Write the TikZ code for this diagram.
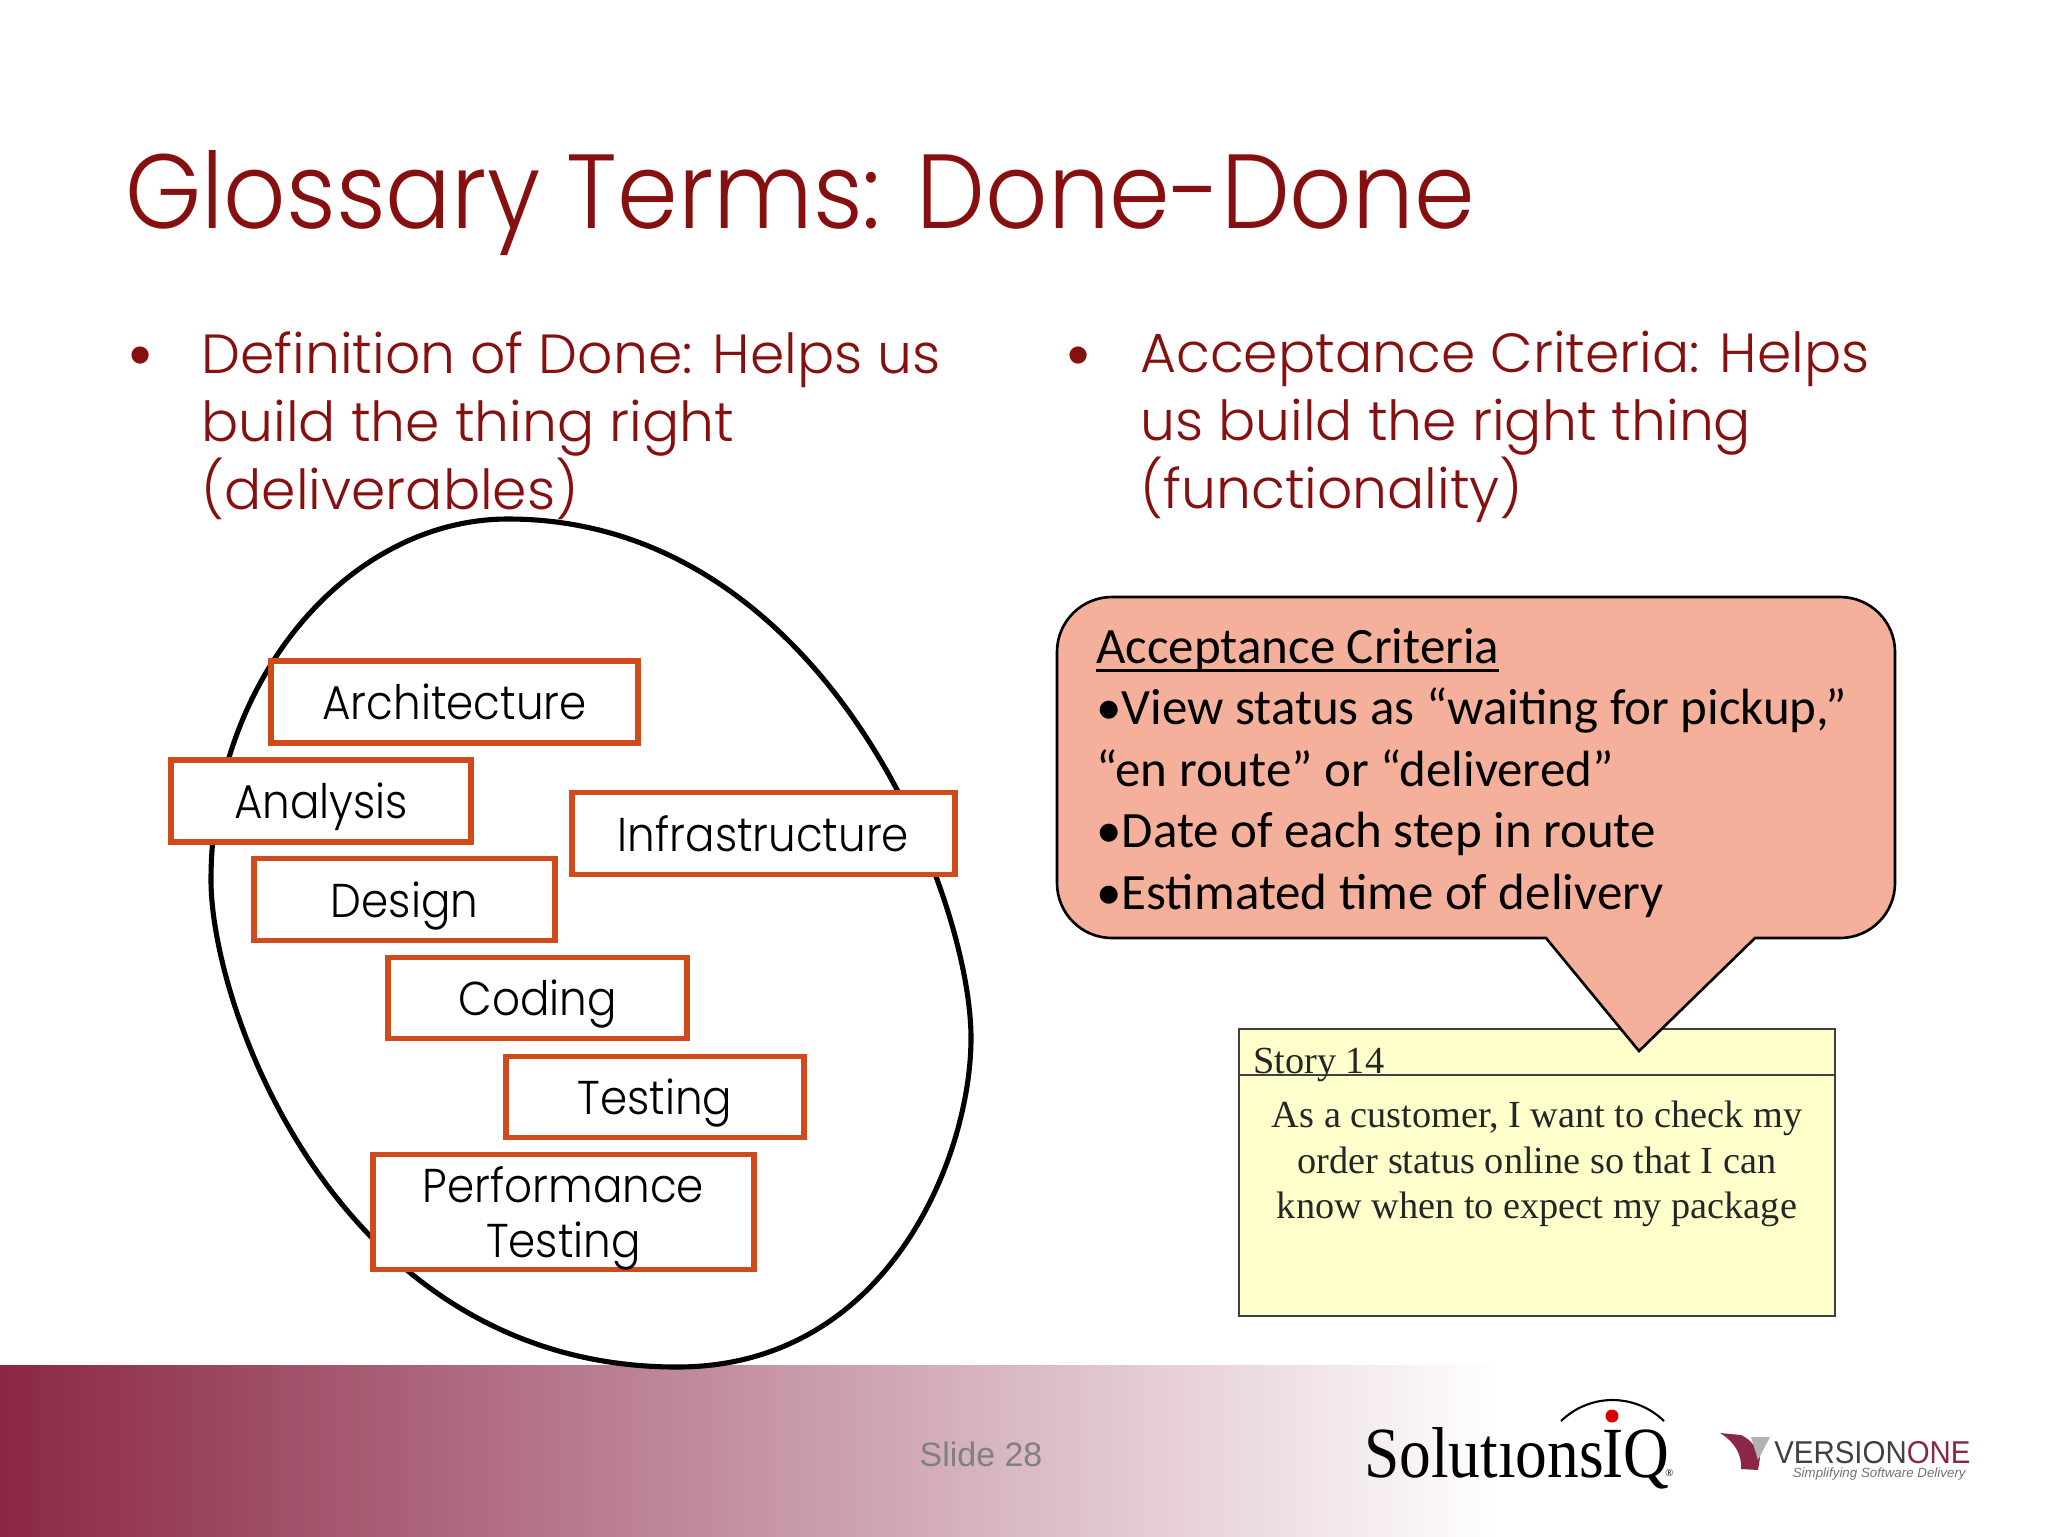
\documentclass[tikz,border=0pt]{standalone}
\usepackage{fontspec}
\setmainfont{Poppins Light}
\newfontfamily\headfont[FakeStretch=0.925]{Poppins Light}
\newfontfamily\stagefont[FakeStretch=0.92]{Poppins Light}
\newfontfamily\bodyfont{Carlito}
\newfontfamily\cardfont{Liberation Serif}
\newfontfamily\logofont[FakeStretch=0.88]{Liberation Serif}
\newfontfamily\footfont{Liberation Sans}
\newfontfamily\vonefont[FakeStretch=0.93]{Liberation Sans}
\newcommand{\undertext}[1]{\setbox0\hbox{#1}\rlap{\rule[-4.7pt]{\wd0}{1.5pt}}\box0}
\definecolor{slidered}{HTML}{860F10}
\definecolor{boxline}{HTML}{D04A1C}
\definecolor{bubble}{HTML}{F4B09A}
\definecolor{cardfill}{HTML}{FFFFCC}
\definecolor{barred}{HTML}{8A2744}
\tikzset{
  stagebox/.style={draw=boxline,line width=5.5pt*0.5691,fill=white,align=center,inner sep=0pt,text depth=0pt,
    font=\stagefont\fontsize{27}{31}\selectfont},
  bullettext/.style={anchor=north west,inner sep=0pt,align=left,text=slidered,
    font=\fontsize{31.4}{38.7}\selectfont},
  bulletdot/.style={anchor=base,inner sep=0pt,text=slidered,font=\footfont\fontsize{36}{36}\selectfont},
  cardline/.style={inner sep=0pt,anchor=base,text=black!85,font=\cardfont\fontsize{21.8}{22}\selectfont},
}

\begin{document}
\begin{tikzpicture}[x=0.02cm,y=-0.02cm]
  \useasboundingbox (0,0) rectangle (2048,1536);
  % footer band
  \fill[left color=barred,right color=white] (0,1365) rectangle (1500,1536);
  \node[text=gray,font=\footfont\fontsize{19.3}{19}\selectfont] (slide) at (981,1454) {Slide 28};
  % heading and the two bullets
  \node[anchor=base west,inner sep=0pt,text=slidered,font=\headfont\fontsize{60}{60}\selectfont] (title) at (125,228) {Glossary Terms: Done-Done};
  \node[bulletdot] (dotL) at (141,376) {•};
  \node[bullettext] (left) at (201,331) {Definition of Done: Helps us\\build the thing right\\(deliverables)};
  \node[bulletdot] (dotR) at (1079,376) {•};
  \node[bullettext] (right) at (1140,331) {Acceptance Criteria: Helps\\us build the right thing\\(functionality)};
  % the egg
  \coordinate (eggT) at (508,519);
  \coordinate (eggR) at (971,1038);
  \coordinate (eggB) at (677,1367);
  \coordinate (eggL) at (211,880);
  \draw[line width=2.9pt] (eggT) .. controls (824,519) and (971,895) .. (eggR)
    .. controls (971,1157) and (888,1367) .. (eggB)
    .. controls (340,1367) and (211,1010) .. (eggL)
    .. controls (211,680) and (349,519) .. (eggT) -- cycle;
  \node[stagebox,minimum width=367*0.02cm,minimum height=82*0.02cm] (arch) at (454.5,702) {Architecture};
  \node[stagebox,minimum width=300*0.02cm,minimum height=82*0.02cm] (analysis) at (321,801) {Analysis};
  \node[stagebox,minimum width=383*0.02cm,minimum height=82*0.02cm] (infra) at (763.5,833.5) {Infrastructure};
  \node[stagebox,minimum width=301*0.02cm,minimum height=82*0.02cm] (design) at (404.5,899.5) {Design};
  \node[stagebox,minimum width=299*0.02cm,minimum height=81*0.02cm] (coding) at (537.5,998) {Coding};
  \node[stagebox,minimum width=298*0.02cm,minimum height=81*0.02cm] (testing) at (655,1097) {Testing};
  \node[stagebox,minimum width=381*0.02cm,minimum height=115*0.02cm] (perf) at (563.5,1212) {Performance\\Testing};
  % story card
  \node[draw=black!75,fill=cardfill,line width=1.1pt,inner sep=0pt,minimum width=596*0.02cm,minimum height=287*0.02cm] (card) at (1537,1172.5) {};
  \coordinate (cardL) at (1239,1075);
  \coordinate (cardR) at (1835,1075);
  \draw[black!75,line width=1.1pt] (cardL) -- (cardR);
  \node[cardline,anchor=base west] (story) at (1253,1073) {Story 14};
  \node[cardline] (body1) at (1537,1127) {As a customer, I want to check my};
  \node[cardline] (body2) at (1537,1173) {order status online so that I can};
  \node[cardline] (body3) at (1537,1218) {know when to expect my package};
  % speech bubble
  \draw[fill=bubble,line width=1.5pt] (1546,938) [rounded corners=1.1cm] -- (1057,938) -- (1057,597) -- (1895,597) -- (1895,938) [sharp corners] -- (1755,938) -- (1639,1051) -- cycle;
  \node[anchor=north west,inner sep=0pt,align=left,text=black,font=\bodyfont\fontsize{29}{35}\selectfont] (criteria) at (1096,628)
    {\undertext{Acceptance Criteria}\\•View status as “waiting for pickup,”\\“en route” or “delivered”\\•Date of each step in route\\•Estimated time of delivery};
  % logos
  \node[anchor=base west,inner sep=0pt,font=\logofont\fontsize{41}{41}\selectfont] (siq) at (1364,1477) {Solutıons\hspace{-1pt}IQ};
  \node[anchor=base west,inner sep=0pt,font=\cardfont\fontsize{6}{7}\selectfont] (reg) at (1665,1476) {®};
  \coordinate (arcL) at (1561,1421);
  \coordinate (arcR) at (1664,1421);
  \draw[line width=1.2pt] (arcL) .. controls (1590,1393) and (1635,1393) .. (arcR);
  \fill[red!85!black] (1612,1416) circle (6.5);
  \fill[barred] (1720,1433) -- (1741,1435) .. controls (1752,1440) and (1758,1450) .. (1760,1458) -- (1758,1470) -- (1741,1469) .. controls (1742,1455) and (1735,1442) .. cycle;
  \fill[gray!60] (1751,1437) -- (1770,1437) -- (1758,1460) -- cycle;
  \node[anchor=base west,inner sep=0pt,font=\vonefont\fontsize{18}{18}\selectfont] (vone) at (1774,1463) {\textcolor{black!75}{VERSION}\textcolor{barred}{ONE}};
  \node[anchor=base east,inner sep=0pt,text=black!55,font=\footfont\itshape\fontsize{7.6}{8}\selectfont] (tag) at (1966,1477) {Simplifying Software Delivery};
\end{tikzpicture}
\end{document}
